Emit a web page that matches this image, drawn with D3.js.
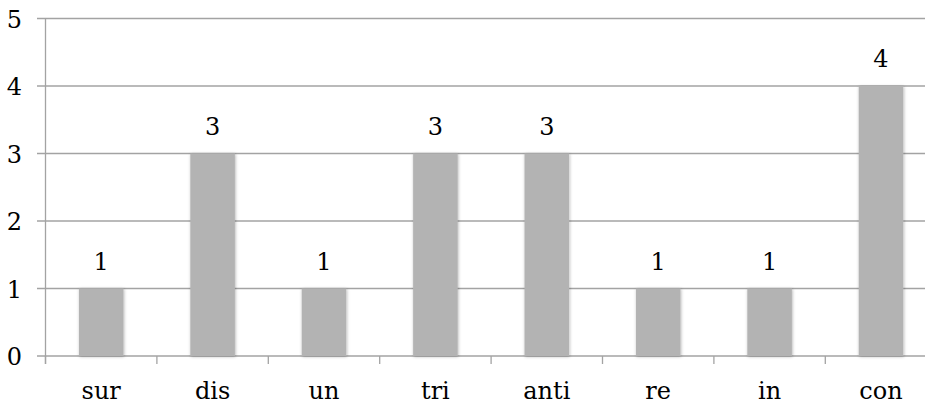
<!DOCTYPE html>
<html>
<head>
<meta charset="utf-8">
<script src="https://cdn.jsdelivr.net/npm/d3@7"></script>
<style>
  html, body { margin: 0; padding: 0; background: #fff; }
  svg { display: block; }
</style>
</head>
<body>
<svg id="chart" width="925" height="406"></svg>
<script>
const categories = ["sur", "dis", "un", "tri", "anti", "re", "in", "con"];
const values = [1, 3, 1, 3, 3, 1, 1, 4];
const yTicks = [0, 1, 2, 3, 4, 5];

const W = 925, H = 406;
const FONT = "DejaVu Serif";
const FS = 24;
const margin = { left: 45.5, top: 18.5, bottom: 50 };
const plotRight = 45.5 + 8 * 111.4;
const svg = d3.select("#chart");

const defs = svg.append("defs");
const f = defs.append("filter").attr("id", "shadow")
  .attr("x", "-20%").attr("y", "-5%").attr("width", "140%").attr("height", "110%");
f.append("feDropShadow").attr("dx", 0.6).attr("dy", 0.6)
  .attr("stdDeviation", 1.6).attr("flood-color", "#000").attr("flood-opacity", 0.3);

const x = d3.scaleBand().domain(categories)
  .range([margin.left, plotRight]).paddingInner(0.6).paddingOuter(0.3);
const y = d3.scaleLinear().domain([0, 5]).range([356, margin.top]);

// gridlines
svg.append("g").selectAll("line").data(yTicks).join("line")
  .attr("x1", 37).attr("x2", W)
  .attr("y1", d => y(d)).attr("y2", d => y(d))
  .attr("stroke", "#a3a3a3").attr("stroke-width", 1.3);

// y axis line
svg.append("line").attr("x1", margin.left).attr("x2", margin.left)
  .attr("y1", y(5)).attr("y2", 364)
  .attr("stroke", "#a3a3a3").attr("stroke-width", 1.3);

// category boundary ticks
const step = x.step();
const bounds = d3.range(categories.length + 1).map(i => margin.left + i * step);
svg.append("g").selectAll("line").data(bounds.filter(b => b <= W)).join("line")
  .attr("x1", d => d).attr("x2", d => d)
  .attr("y1", y(0)).attr("y2", 364)
  .attr("stroke", "#a3a3a3").attr("stroke-width", 1.3);

// bars
svg.append("g").selectAll("rect").data(values).join("rect")
  .attr("x", (d, i) => x(categories[i]))
  .attr("width", x.bandwidth())
  .attr("y", d => y(d))
  .attr("height", d => y(0) - y(d))
  .attr("fill", "#b3b3b3")
  .attr("filter", "url(#shadow)");

// value labels
svg.append("g").selectAll("text").data(values).join("text")
  .attr("x", (d, i) => x(categories[i]) + x.bandwidth() / 2)
  .attr("y", d => y(d) - 19)
  .attr("text-anchor", "middle")
  .attr("font-family", FONT).attr("font-size", FS)
  .text(d => d);

// y tick labels
svg.append("g").selectAll("text").data(yTicks).join("text")
  .attr("x", 22)
  .attr("y", d => y(d) + 9)
  .attr("text-anchor", "end")
  .attr("font-family", FONT).attr("font-size", FS)
  .text(d => d);

// x labels
svg.append("g").selectAll("text").data(categories).join("text")
  .attr("x", d => x(d) + x.bandwidth() / 2)
  .attr("y", 399)
  .attr("text-anchor", "middle")
  .attr("font-family", FONT).attr("font-size", FS)
  .text(d => d);
</script>
</body>
</html>
